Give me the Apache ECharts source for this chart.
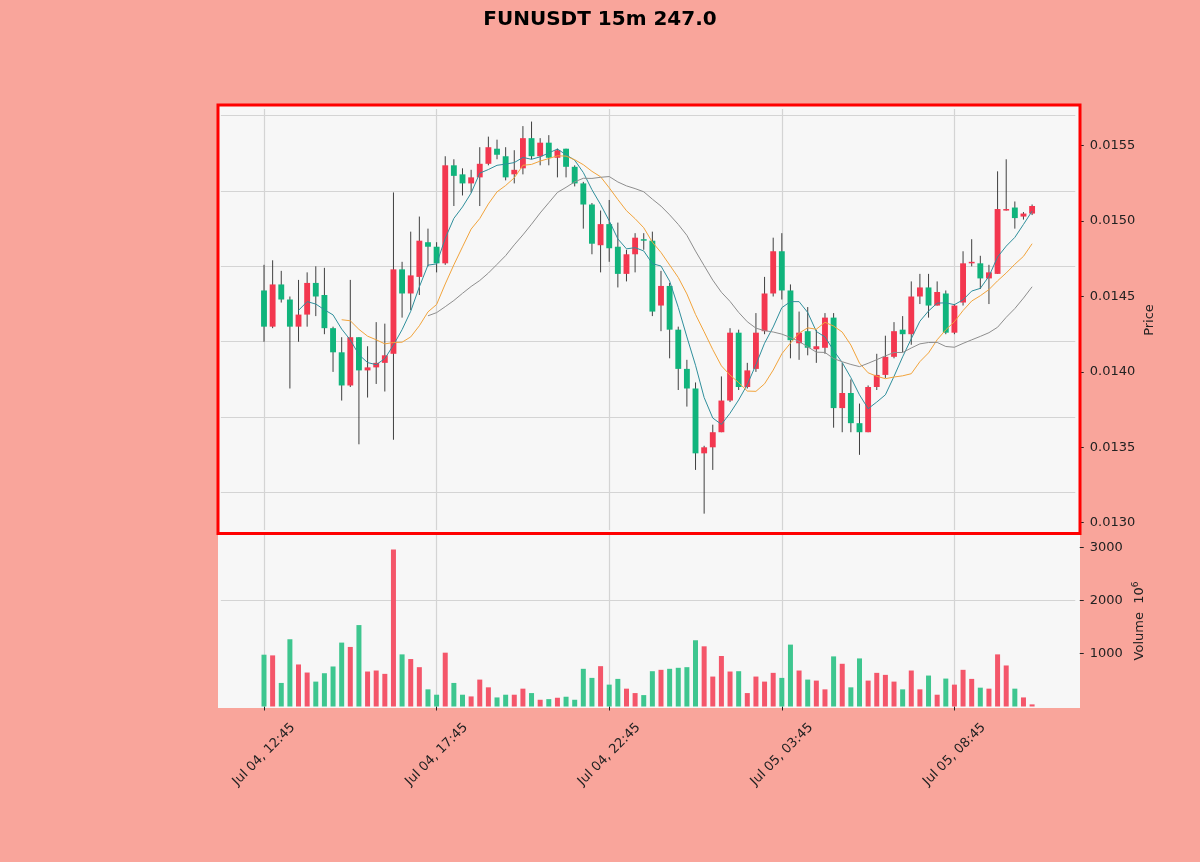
<!DOCTYPE html>
<html>
<head>
<meta charset="utf-8">
<title>FUNUSDT 15m</title>
<script src="https://cdn.jsdelivr.net/npm/echarts@6/dist/echarts.min.js"></script>
<style>
    html, body { margin: 0; padding: 0; background: #f9a59b; }
    #chart { width: 1200px; height: 862px; }
</style>
</head>
<body>
<div id="chart"></div>
<script>
// K线数据 (15m)
var openP = [0.01454, 0.01430, 0.01458, 0.01448, 0.01430, 0.01438, 0.01459, 0.01451, 0.01429, 0.01413,
    0.01391, 0.01423, 0.01401, 0.01403, 0.01406, 0.01412, 0.01468, 0.01452, 0.01463, 0.01486,
    0.01483, 0.01472, 0.01537, 0.01531, 0.01525, 0.01529, 0.01538, 0.01548, 0.01543, 0.01531,
    0.01535, 0.01555, 0.01543, 0.01552, 0.01542, 0.01548, 0.01536, 0.01525, 0.01511, 0.01484,
    0.01498, 0.01483, 0.01465, 0.01478, 0.01488, 0.01487, 0.01444, 0.01457, 0.01428, 0.01402,
    0.01389, 0.01346, 0.01350, 0.01360, 0.01381, 0.01426, 0.01390, 0.01402, 0.01427, 0.01452,
    0.01480, 0.01454, 0.01419, 0.01427, 0.01415, 0.01416, 0.01436, 0.01376, 0.01386, 0.01366,
    0.01360, 0.01390, 0.01398, 0.01410, 0.01428, 0.01425, 0.01450, 0.01456, 0.01444, 0.01452,
    0.01426, 0.01446, 0.01472, 0.01472, 0.01462, 0.01465, 0.01507, 0.01509, 0.01503, 0.01505];
var closeP = [0.01430, 0.01458, 0.01448, 0.01430, 0.01438, 0.01459, 0.01450, 0.01429, 0.01413, 0.01391,
    0.01423, 0.01401, 0.01403, 0.01406, 0.01411, 0.01468, 0.01452, 0.01464, 0.01487, 0.01483,
    0.01472, 0.01537, 0.01530, 0.01525, 0.01529, 0.01538, 0.01549, 0.01544, 0.01529, 0.01534,
    0.01555, 0.01543, 0.01552, 0.01542, 0.01547, 0.01536, 0.01525, 0.01511, 0.01485, 0.01498,
    0.01482, 0.01465, 0.01478, 0.01489, 0.01487, 0.01440, 0.01457, 0.01428, 0.01402, 0.01389,
    0.01346, 0.01350, 0.01360, 0.01381, 0.01426, 0.01390, 0.01401, 0.01426, 0.01452, 0.01480,
    0.01454, 0.01421, 0.01426, 0.01416, 0.01417, 0.01436, 0.01376, 0.01386, 0.01366, 0.01360,
    0.01390, 0.01398, 0.01410, 0.01427, 0.01425, 0.01450, 0.01456, 0.01444, 0.01453, 0.01426,
    0.01444, 0.01472, 0.01473, 0.01462, 0.01466, 0.01508, 0.01508, 0.01502, 0.01505, 0.01510];
var highP = [0.01471, 0.01474, 0.01467, 0.01450, 0.01461, 0.01466, 0.01470, 0.01469, 0.01430, 0.01423,
    0.01461, 0.01423, 0.01417, 0.01433, 0.01432, 0.01519, 0.01473, 0.01493, 0.01503, 0.01495,
    0.01486, 0.01543, 0.01541, 0.01535, 0.01534, 0.01549, 0.01556, 0.01554, 0.01549, 0.01547,
    0.01563, 0.01566, 0.01555, 0.01557, 0.01548, 0.01548, 0.01537, 0.01526, 0.01512, 0.01507,
    0.01514, 0.01499, 0.01481, 0.01492, 0.01492, 0.01493, 0.01467, 0.01459, 0.01430, 0.01408,
    0.01393, 0.01351, 0.01365, 0.01397, 0.01429, 0.01428, 0.01406, 0.01439, 0.01463, 0.01489,
    0.01492, 0.01458, 0.01440, 0.01443, 0.01428, 0.01439, 0.01439, 0.01406, 0.01395, 0.01379,
    0.01391, 0.01412, 0.01424, 0.01433, 0.01437, 0.01460, 0.01465, 0.01465, 0.01460, 0.01454,
    0.01445, 0.01480, 0.01488, 0.01477, 0.01471, 0.01533, 0.01541, 0.01513, 0.01506, 0.01511];
var lowP = [0.01420, 0.01429, 0.01446, 0.01389, 0.01420, 0.01430, 0.01437, 0.01425, 0.01400, 0.01381,
    0.01390, 0.01352, 0.01383, 0.01392, 0.01387, 0.01355, 0.01436, 0.01441, 0.01451, 0.01470,
    0.01466, 0.01471, 0.01510, 0.01517, 0.01519, 0.01510, 0.01537, 0.01541, 0.01527, 0.01525,
    0.01531, 0.01541, 0.01537, 0.01537, 0.01529, 0.01529, 0.01523, 0.01495, 0.01478, 0.01466,
    0.01473, 0.01456, 0.01460, 0.01466, 0.01481, 0.01437, 0.01427, 0.01409, 0.01388, 0.01377,
    0.01335, 0.01306, 0.01335, 0.01360, 0.01380, 0.01388, 0.01389, 0.01400, 0.01425, 0.01450,
    0.01448, 0.01409, 0.01408, 0.01411, 0.01406, 0.01412, 0.01363, 0.01360, 0.01360, 0.01345,
    0.01360, 0.01388, 0.01396, 0.01409, 0.01413, 0.01418, 0.01445, 0.01436, 0.01444, 0.01425,
    0.01425, 0.01444, 0.01470, 0.01455, 0.01445, 0.01465, 0.01507, 0.01495, 0.01501, 0.01504];
// 成交量 (10^6)
var volume = [976, 963, 444, 1267, 792, 640, 469, 627, 754, 1204,
    1122, 1534, 659, 678, 615, 2959, 982, 894, 741, 323,
    222, 1014, 444, 222, 190, 507, 361, 171, 222, 222,
    336, 253, 127, 139, 165, 184, 127, 710, 539, 760,
    412, 520, 336, 253, 215, 665, 691, 710, 729, 741,
    1248, 1134, 564, 951, 659, 665, 253, 564, 469, 634,
    539, 1166, 678, 507, 488, 323, 944, 805, 361, 906,
    488, 634, 596, 469, 323, 678, 323, 583, 222, 526,
    412, 691, 520, 355, 336, 982, 773, 336, 171, 40];
// 横轴刻度
var tickIdx = [0, 20, 40, 60, 80];
var tickLabels = ['Jul 04, 12:45', 'Jul 04, 17:45', 'Jul 04, 22:45', 'Jul 05, 03:45', 'Jul 05, 08:45'];
var volTicks = [1000, 2000, 3000];
// 均线
var maPeriods = [5, 10, 20];
var maColors = ['#2f8f9c', '#f2a43c', '#8e8e8e'];

var UP = '#f3374f', DOWN = '#10b47c';
var UP_VOL = '#f4566a', DOWN_VOL = '#3ec68f';
var GRID_LINE = '#d4d4d4';
var FONT = 'DejaVu Sans';
var PAD = 5;
var N = openP.length + 2 * PAD;

var cats = [];
for (var k = 0; k < N; k++) cats.push(String(k));

function isTick(idx) {
    return tickIdx.indexOf(idx - PAD) >= 0;
}

function calcMA(n) {
    var out = [];
    for (var i = n - 1; i < closeP.length; i++) {
        var s = 0;
        for (var j = 0; j < n; j++) s += closeP[i - j];
        out.push([i + PAD, s / n]);
    }
    return out;
}

var candleData = openP.map(function (o, i) {
    return [i + PAD, o, closeP[i], lowP[i], highP[i]];
});
var volData = volume.map(function (v, i) {
    return {
        value: [i + PAD, v],
        itemStyle: { color: closeP[i] >= openP[i] ? UP_VOL : DOWN_VOL }
    };
});

function renderCandle(params, api) {
    var x = api.value(0);
    var o = api.value(1), c = api.value(2), l = api.value(3), h = api.value(4);
    var top = api.coord([x, Math.max(o, c)]);
    var bot = api.coord([x, Math.min(o, c)]);
    var hi = api.coord([x, h]);
    var lo = api.coord([x, l]);
    var w = api.size([1, 0])[0] * 0.68;
    return {
        type: 'group',
        children: [
            { type: 'line', shape: { x1: hi[0], y1: hi[1], x2: lo[0], y2: lo[1] }, style: { stroke: '#2b2b2b', lineWidth: 0.9 } },
            { type: 'rect', shape: { x: top[0] - w / 2, y: top[1], width: w, height: Math.max(bot[1] - top[1], 1.2) }, style: { fill: c >= o ? UP : DOWN } }
        ]
    };
}

var gridL = 220.85, gridW = 854.4;
var hiddenX = function (gi, split) {
    return {
        type: 'category', gridIndex: gi, data: cats, boundaryGap: false,
        axisLine: { show: false }, axisTick: { show: false }, axisLabel: { show: false },
        splitLine: { show: split, interval: function (idx) { return isTick(idx); }, lineStyle: { color: GRID_LINE, width: 1.2 } }
    };
};

var series = [{
    type: 'custom', xAxisIndex: 2, yAxisIndex: 2, clip: false,
    renderItem: renderCandle, data: candleData,
    encode: { x: 0, y: [1, 2, 3, 4] }, z: 3
}];
maPeriods.forEach(function (n, i) {
    series.push({
        type: 'line', xAxisIndex: 2, yAxisIndex: 2, data: calcMA(n),
        showSymbol: false, clip: false, z: 4,
        lineStyle: { color: maColors[i], width: 1 }
    });
});
series.push({
    type: 'bar', xAxisIndex: 3, yAxisIndex: 3, data: volData, barWidth: 5
});

var chart = echarts.init(document.getElementById('chart'));
chart.setOption({
    backgroundColor: '#f9a59b',
    animation: false,
    title: {
        text: 'FUNUSDT 15m 247.0', left: 'center', top: 5,
        textStyle: { fontFamily: FONT, fontSize: 20, fontWeight: 'bold', color: '#000' }
    },
    grid: [
        { left: gridL, width: gridW, top: 109, height: 421 },
        { left: gridL, width: gridW, top: 115.5, height: 377 },
        { left: gridL, width: gridW, top: 145.7, height: 377 },
        { left: gridL, width: gridW, top: 534, height: 172.5 }
    ],
    xAxis: [
        hiddenX(0, true),
        hiddenX(1, false),
        hiddenX(2, false),
        {
            type: 'category', gridIndex: 3, data: cats, boundaryGap: false,
            axisLine: { show: false },
            axisTick: { show: true, interval: function (idx) { return isTick(idx); }, length: 4, lineStyle: { color: '#222' } },
            axisLabel: {
                interval: function (idx) { return isTick(idx); },
                formatter: function (v, idx) { var p = tickIdx.indexOf(idx - PAD); return p >= 0 ? tickLabels[p] : ''; },
                rotate: 45, align: 'center', verticalAlign: 'middle', margin: 48,
                fontFamily: FONT, fontSize: 13, color: '#222'
            },
            splitLine: { show: true, interval: function (idx) { return isTick(idx); }, lineStyle: { color: GRID_LINE, width: 1.2 } }
        }
    ],
    yAxis: [
        { type: 'value', gridIndex: 0, show: false },
        {
            type: 'value', gridIndex: 1, min: 0.0130, max: 0.0155, interval: 0.0005,
            axisLine: { show: false }, axisTick: { show: false }, axisLabel: { show: false },
            splitLine: { show: true, lineStyle: { color: GRID_LINE, width: 1.2 } }
        },
        {
            type: 'value', gridIndex: 2, position: 'right', offset: 4.5,
            min: 0.0130, max: 0.0155, interval: 0.0005,
            axisLine: { show: false },
            axisTick: { show: true, length: 4, lineStyle: { color: '#222' } },
            axisLabel: { margin: 10, fontFamily: FONT, fontSize: 13, color: '#222', formatter: function (v) { return v.toFixed(4); } },
            splitLine: { show: false }
        },
        {
            type: 'value', gridIndex: 3, position: 'right', offset: 4.5,
            min: 0, max: 3250, interval: 1000,
            axisLine: { show: false },
            axisTick: { show: true, length: 4, customValues: volTicks, lineStyle: { color: '#222' } },
            axisLabel: {
                margin: 10, fontFamily: FONT, fontSize: 13, color: '#222', customValues: volTicks,
                formatter: function (v) { return String(Math.round(v)); }
            },
            splitLine: { show: true, showMinLine: false, showMaxLine: false, lineStyle: { color: GRID_LINE, width: 1.2 } }
        }
    ],
    graphic: [
        // 面板底色
        { type: 'rect', z: -10, shape: { x: 218, y: 105, width: 862, height: 429 }, style: { fill: '#f7f7f7' } },
        { type: 'rect', z: -10, shape: { x: 218, y: 534, width: 862, height: 174 }, style: { fill: '#f7f7f7' } },
        // 红框
        { type: 'rect', z: 100, shape: { x: 218, y: 105, width: 862, height: 428.5 }, style: { fill: 'none', stroke: '#ff0000', lineWidth: 3 } },
        {
            type: 'text', z: 100, x: 1150, y: 320, rotation: Math.PI / 2,
            style: { text: 'Price', fontFamily: FONT, fontSize: 13, fill: '#222', align: 'center', verticalAlign: 'middle' }
        },
        {
            type: 'text', z: 100, x: 1140, y: 621, rotation: Math.PI / 2,
            style: {
                text: 'Volume  10{sup|6}', fontFamily: FONT, fontSize: 13, fill: '#222', align: 'center', verticalAlign: 'middle',
                rich: { sup: { fontFamily: FONT, fontSize: 9, fill: '#222', verticalAlign: 'top', padding: [0, 0, 8, 0] } }
            }
        }
    ],
    series: series
});
</script>
</body>
</html>
